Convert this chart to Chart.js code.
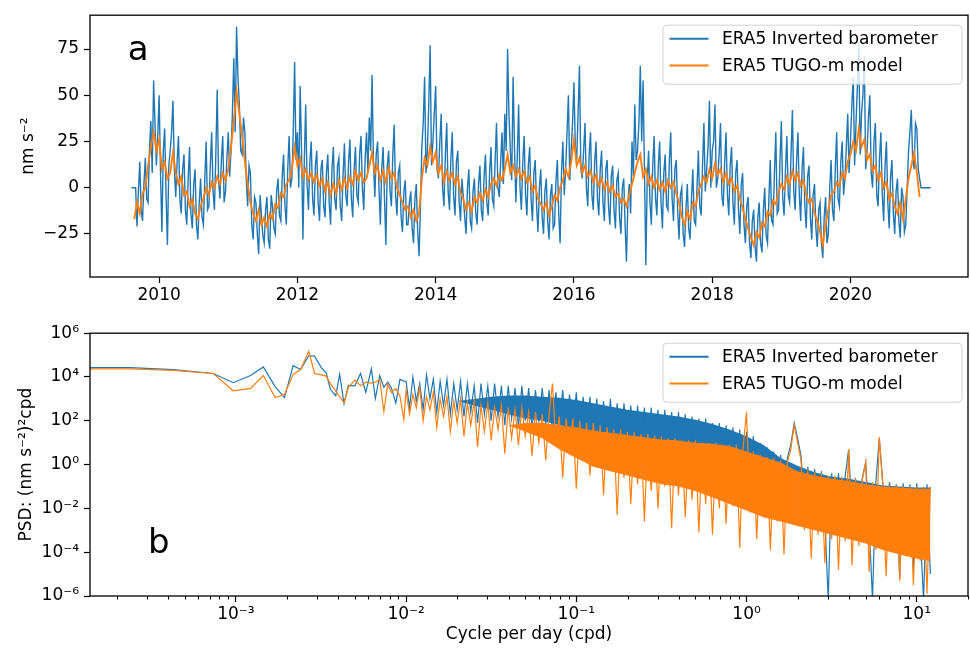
<!DOCTYPE html>
<html>
<head>
<meta charset="utf-8">
<script src="https://cdn.jsdelivr.net/npm/chart.js@4.4.0/dist/chart.umd.min.js"></script>
<style>
  body { margin: 0; background: #fff; width: 970px; height: 649px; overflow: hidden; position: relative; }
  canvas { position: absolute; left: 0; }
  #tsChart { top: 0; }
  #psdChart { top: 318px; }
</style>
</head>
<body>
<canvas id="tsChart" width="970" height="318"></canvas>
<canvas id="psdChart" width="970" height="331"></canvas>
<script>
// ---------- panel a : gravity residual time series (nm s^-2) ----------
const tsStart = 2009.60;

// inverted barometer, one value every 0.02 yr
const ibStep = 0.02;
const ibSeries = [
  0, 0, 0, 0, -21, -2, 14, -12, -18, 2, 16, -6, -8, 20, 36, 8, 58, 35, 12, 28,
  50, 8, -24, 20, 32, -4, -31, 12, 20, 30, 47, 10, -5, 14, 28, -6, -14, 10, 18, -12,
  -20, 5, 22, -14, -22, 2, 10, -20, -28, -8, 5, -16, -20, 4, 25, -12, -10, 12, 30, -2,
  -12, 18, 53, 4, -6, 15, 28, -8, -2, 16, 30, 6, 20, 40, 70, 30, 87, 60, 45, 20,
  18, 38, 30, 5, -10, 12, 8, -20, -28, -5, -8, -25, -36, -4, -15, -26, -30, -12, -5, -28,
  -33, -4, -10, -22, -25, -2, 5, -15, -18, 6, 18, -10, -20, 10, 28, 0, 5, 30, 68, 15,
  30, 0, 55, 20, -28, 15, 45, 2, -12, 14, 25, -6, -15, 12, 20, -8, -18, 10, 15, -10,
  -16, 8, 18, -8, -20, 10, 22, -6, -12, 12, 16, -10, -18, 6, 24, -4, -10, 14, 26, -6,
  -16, 10, 22, -4, -8, 18, 28, 0, -12, 16, 30, 8, 38, 20, 61, 14, -5, 18, 25, 0,
  -20, 10, 22, -6, -31, 12, 20, -2, -10, 18, 34, -4, -15, 8, 12, -16, -24, -2, 4, -20,
  -20, -8, -2, -22, -30, -6, 2, -24, -37, -10, 22, 35, 60, 8, 20, 45, 77, 12, 25, 40,
  55, 10, 5, 25, 40, 0, -10, 18, 35, -2, -12, 16, 30, -5, -15, 14, 20, -8, -18, 5,
  -5, -16, -25, 0, 10, -18, -22, -2, 5, -14, -20, 2, 12, -12, -18, 6, 18, -8, -15, 8,
  22, -6, -10, 15, 35, 0, -5, 14, 30, 2, 40, 20, 75, 40, 20, 4, 60, 22, -8, 16,
  45, 0, -12, 14, 28, -4, -15, 12, 22, -6, -18, 8, 15, -10, -24, 0, 10, -16, -25, -2,
  5, -18, -28, -4, 2, -22, -20, 4, 15, -14, -30, 8, 25, -4, 10, 30, 50, 4, 20, 35,
  57, 22, 15, 40, 66, 10, 5, 20, 35, 0, -10, 18, 30, -4, -12, 14, 25, -6, -15, 10,
  20, -8, -18, 10, 15, -10, -20, 6, 12, -12, -22, 4, 8, -16, -25, 0, 5, -20, -40, -8,
  2, -14, 25, 6, 45, 15, 20, 35, 66, 25, 58, 10, -42, 4, 20, -8, -20, 12, 28, -6,
  -15, 12, 25, -8, -22, 8, 18, -10, -12, 14, 30, -6, -18, 10, 15, -12, -28, -4, 0, -25,
  -32, -12, 2, -22, -28, -6, 10, -18, -20, 0, 20, -10, -15, 12, 35, -2, 10, 22, 47, 0,
  20, 25, 45, 0, 5, 18, 35, -5, -10, 14, 30, -4, -15, 12, 22, -8, -20, 8, 15, -12,
  -25, 2, 8, -20, -30, -10, -5, -30, -38, -18, -12, -32, -40, -16, -8, -30, -35, -12, 0, -26,
  -30, -6, 15, -18, -20, 8, 30, -14, -12, 14, 36, -6, -15, 10, 28, -4, -8, 18, 42, -2,
  -12, 14, 30, -4, -18, 10, 22, -10, -22, 6, 12, -16, -28, -4, 2, -22, -32, -12, -8, -30,
  -38, -16, -5, -30, -25, 0, 15, -12, -18, 10, 30, -6, -10, 14, 25, -4, 5, 22, 40, 8,
  25, 45, 60, 12, 35, 55, 78, 18, 40, 50, 71, 10, 20, 38, 50, 8, 0, 25, 35, -4,
  -10, 16, 30, -4, -18, 12, 25, -8, -22, 6, 15, -14, -25, -2, 5, -18, -27, 0, -5, -24,
  -20, 0, 20, 30, 42, 15, 10, 35, 32, 10, 5, 0, 0, 0, 0, 0, 0, 0, 0
];

// TUGO-m model, one value every 0.04 yr
const tugoStep = 0.04;
const tugoSeries = [
  null, -17, -8, -14, -3, 0, 12, 22, 30, 20,
  26, 10, 14, 5, 8, 19, 8, 2, 6, -4,
  -2, -10, -6, -14, -17, -10, -6, 0, -4, 3,
  0, 6, 2, 8, 4, 10, 22, 36, 52, 40,
  28, 14, 2, -8, -14, -18, -12, -20, -16, -21,
  -14, -17, -9, -11, -3, -5, 2, 4, 10, 22,
  12, 16, 6, 10, 4, 8, 3, 7, 1, 5,
  -2, 3, -4, 2, -3, 4, -1, 5, 0, 6,
  2, 9, 4, 8, 3, 5, 12, 19, 8, 12,
  4, 9, 3, 11, 5, 8, 0, -4, -8, -12,
  -10, -16, -12, -18, -14, 5, 16, 12, 22, 14,
  19, 8, 12, 3, 9, 4, 8, 2, 6, -3,
  -6, -12, -8, -13, -5, -8, -3, -7, -1, -5,
  2, 5, 1, 7, 4, 10, 18, 8, 12, 6,
  10, 5, 9, 3, 6, -2, 1, -6, -9, -12,
  -8, -15, -10, -4, -7, 0, 4, 10, 6, 14,
  26, 12, 16, 8, 12, 6, 9, 3, 7, 1,
  5, -1, 3, -2, 1, -5, -3, -8, -6, -10,
  -4, 2, 8, 14, 18, 6, 10, 2, 6, 0,
  4, -1, 3, -2, 4, 0, 3, -3, -8, -16,
  -20, -13, -17, -8, -10, -2, 2, 6, 3, 10,
  5, 13, 7, 10, 3, 8, 2, 5, -2, 1,
  -6, -11, -17, -22, -27, -31, -24, -27, -19, -21,
  -13, -15, -7, -9, -2, 2, -1, 6, 2, 9,
  4, 8, 1, 4, -4, -8, -6, -14, -18, -24,
  -31, -20, -12, -4, -2, 3, 1, 8, 5, 14,
  18, 25, 20, 32, 22, 26, 15, 18, 9, 12,
  4, 8, 0, 3, -6, -3, -10, -14, -8, -17,
  -6, 5, 12, 19, 8, -5
];

const tsYearTicks = [2010, 2012, 2014, 2016, 2018, 2020];
const tsValueTicks = [-25, 0, 25, 50, 75];

// ---------- panel b : power spectral density, values stored as log10 ----------
const psdLowFreq = [
  1.39e-4, 2.39e-4, 4.28e-4, 7.36e-4, 9.65e-4, 1.22e-3, 1.45e-3, 1.70e-3,
  1.93e-3, 2.17e-3, 2.40e-3, 2.68e-3, 2.90e-3, 3.18e-3, 3.39e-3, 3.59e-3,
  3.86e-3, 4.07e-3, 4.32e-3, 4.58e-3, 5.0e-3, 5.4e-3, 5.8e-3, 6.25e-3,
  6.6e-3, 7.0e-3, 7.4e-3, 7.8e-3, 8.2e-3, 8.7e-3, 9.2e-3, 9.7e-3
];
const ibPsdLow = [
  4.43, 4.43, 4.34, 4.16, 3.74, 4.07, 4.46, 3.56,
  3.06, 4.52, 4.34, 4.97, 4.95, 4.42, 4.19, 3.44,
  3.14, 4.12, 2.79, 3.62, 3.60, 4.16, 3.30, 4.37,
  3.02, 4.07, 3.53, 3.77, 3.50, 2.81, 3.89, 3.81
];
const tugoPsdLow = [
  4.37, 4.37, 4.30, 4.16, 3.37, 3.48, 4.07, 3.06,
  3.20, 4.12, 4.34, 5.17, 4.16, 4.10, 4.04, 3.70,
  3.37, 3.10, 2.83, 3.53, 3.86, 3.60, 3.77, 3.72,
  3.77, 3.89, 2.42, 3.67, 3.29, 3.47, 3.14, 2.06
];

// dense part of the spectrum, one value every 0.02 decade from 10^-2 cpd
const psdGridStart = -2.0;
const psdGridStep = 0.02;
const ibPsdGrid = [
  3.8, 2.6, 4.0, 2.9, 3.7, 2.5, 4.1, 3.0, 3.9, 2.4,
  3.8, 2.7, 3.9, 2.3, 3.7, 2.5, 3.8, 2.2, 3.7, 2.4,
  3.6, 1.9, 3.7, 2.3, 3.6, 2.0, 3.7, 2.2, 3.6, 1.8,
  3.6, 2.1, 3.5, 1.7, 3.6, 2.0, 3.5, 1.6, 3.4, 2.0,
  3.5, 1.8, 3.4, 1.4, 3.3, 1.9, 3.4, 1.5, 3.2, 1.7,
  3.3, 1.2, 3.1, 1.4, 3.1, 1.0, 3.0, 1.3, 2.9, 0.8,
  3.0, 1.0, 2.8, 0.6, 2.8, 0.9, 2.7, 0.4, 2.7, 0.7,
  2.6, 0.2, 2.6, 0.5, 2.5, 0.0, 2.5, 0.3, 2.4, -0.3,
  2.4, 0.1, 2.3, -0.5, 2.2, -0.2, 2.1, -0.8, 2.1, -0.4,
  1.9, -1.0, 1.9, -0.6, 1.8, -1.2, 1.7, -0.8, 1.6, -1.4,
  1.5, -1.0, 1.3, -1.6, 1.0, -1.2, 0.8, -1.8, 0.6, -1.5,
  0.45, -2.0, 0.3, 0.9, 1.9, 1.2, 0.4, -1.8, -0.1, -2.2,
  -0.2, -2.0, -0.3, -2.5, -6.2, -0.4, -2.3, -0.4, -2.7, -0.5,
  0.7, -2.4, -0.6, -2.9, -0.6, 0.1, -2.6, -6.2, -0.75, 1.2,
  -0.8, -3.0, -0.8, -2.8, -0.9, -5.2, -0.85, -3.2, -0.9, -4.8,
  -0.85, -3.0, -6.2, -0.9, -5.0
];
const tugoPsdGrid = [
  3.4, 2.3, 3.2, 2.6, 3.5, 2.0, 3.1, 2.5, 3.3, 1.7,
  3.0, 2.2, 3.1, 1.5, 2.9, 1.9, 3.0, 1.3, 2.8, 1.8,
  2.9, 0.8, 2.7, 1.5, 2.8, 1.1, 2.6, 1.6, 2.7, 0.5,
  2.6, 1.2, 2.5, 0.9, 2.6, 1.3, 2.4, 0.4, 2.4, 1.0,
  2.3, 0.2, 2.3, 3.7, 0.9, 2.2, -0.6, 2.1, 0.6, 2.1,
  -1.1, 2.0, 0.3, 1.9, -0.5, 1.9, 0.0, 1.8, -1.4, 1.7,
  -0.3, 1.6, -2.3, 1.6, -0.6, 1.5, -1.8, 1.5, -0.9, 1.4,
  -2.6, 1.4, -1.2, 1.3, -2.0, 1.3, -1.0, 1.2, -2.9, 1.2,
  -1.4, 1.1, -2.4, 1.1, -1.6, 1.1, -3.1, 1.0, -1.8, 1.0,
  -3.2, 1.0, -2.0, 0.9, -2.7, 0.9, -1.9, 0.9, -3.8, 0.8,
  2.4, -2.2, 0.6, -3.4, 0.45, -2.4, 0.35, -3.9, 0.3, -2.6,
  0.2, -4.1, 0.1, 0.7, 1.8, 1.0, 0.2, -3.0, -0.2, -4.3,
  -0.35, -3.2, -0.4, -4.5, -0.5, -3.4, -0.5, -4.8, -0.55, -3.5,
  0.7, -4.6, -0.65, -3.7, -0.7, 0.1, -4.9, -0.8, -3.9, 1.26,
  -0.9, -5.1, -0.95, -4.0, -0.95, -5.3, -1.0, -4.2, -1.0, -5.5,
  -1.0, -4.4, -1.0, -5.9, -1.0
];

// solid core of the noisy band (where the lines overlap completely)
const ibBandLogF = [-1.7, -1.6, -1.5, -1.4, -1.3, -1.2, -1.1, -1.0, -0.9, -0.8, -0.7, -0.6, -0.5, -0.4,
  -0.3, -0.2, -0.1, 0.0, 0.1, 0.2, 0.3, 0.4, 0.5, 0.6, 0.7, 0.8, 0.9, 1.0, 1.08];
const ibBandTop = [2.9, 3.0, 3.1, 3.15, 3.15, 3.1, 3.05, 2.95, 2.8, 2.65, 2.5, 2.4, 2.3, 2.2,
  2.05, 1.85, 1.6, 1.3, 0.9, 0.3, -0.05, -0.35, -0.55, -0.65, -0.8, -0.95, -1.0, -1.05, -1.05];
const ibBandBottom = [2.9, 2.7, 2.5, 2.3, 2.1, 2.0, 1.8, 1.6, 1.4, 1.2, 1.0, 0.8, 0.6, 0.4,
  0.2, 0.0, -0.2, -0.4, -0.6, -0.8, -1.0, -1.2, -1.4, -1.6, -1.8, -2.0, -2.2, -2.4, -2.5];
const tugoBandLogF = [-1.4, -1.3, -1.2, -1.1, -1.0, -0.9, -0.8, -0.7, -0.6, -0.5, -0.4, -0.3, -0.2, -0.1,
  0.0, 0.1, 0.2, 0.3, 0.4, 0.5, 0.6, 0.7, 0.8, 0.9, 1.0, 1.08];
const tugoBandTop = [1.8, 1.9, 1.9, 1.8, 1.7, 1.55, 1.45, 1.35, 1.25, 1.15, 1.1, 1.0, 0.95, 0.85,
  0.6, 0.35, 0.1, -0.3, -0.5, -0.65, -0.75, -0.9, -1.0, -1.05, -1.1, -1.1];
const tugoBandBottom = [1.8, 1.5, 1.2, 0.7, 0.3, -0.1, -0.3, -0.5, -0.7, -0.9, -1.0, -1.2, -1.5, -1.8,
  -2.1, -2.4, -2.6, -2.8, -3.0, -3.2, -3.4, -3.6, -3.9, -4.1, -4.3, -4.4];

const psdFreqTicks = [1e-3, 1e-2, 1e-1, 1, 10];
const psdValueTicks = [1e-6, 1e-4, 1e-2, 1, 1e2, 1e4, 1e6];

// ---------- helpers ----------
const BLUE = '#1f77b4';
const ORANGE = '#ff7f0e';
const FONT = "'DejaVu Sans', sans-serif";

Chart.defaults.font.family = FONT;
Chart.defaults.font.size = 17;
Chart.defaults.color = '#000';

const tsPoints = (vals, step) => vals.map((v, i) => ({ x: tsStart + i * step, y: v }));
const psdPoints = (lowVals, gridVals) =>
  psdLowFreq.map((f, i) => ({ x: f, y: 10 ** lowVals[i] }))
    .concat(gridVals.map((v, i) => ({ x: 10 ** (psdGridStart + i * psdGridStep), y: 10 ** v })));
const bandPoints = (logF, vals) => logF.map((u, i) => ({ x: 10 ** u, y: 10 ** vals[i] }));

const SUP = { '-': '\u207b', '0': '\u2070', '1': '\u00b9', '2': '\u00b2', '3': '\u00b3',
  '4': '\u2074', '5': '\u2075', '6': '\u2076' };
const powLabel = v => '10' + String(Math.round(Math.log10(v))).split('').map(c => SUP[c]).join('');
const minusLabel = v => (v < 0 ? '\u2212' + Math.abs(v) : String(v));
const fixTicks = arr => scale => { scale.ticks = arr.map(v => ({ value: v })); };

const axisGrid = {
  drawOnChartArea: false, drawTicks: true, tickLength: 6,
  color: '#000', tickColor: '#000', tickWidth: 1.2
};

// black box around the axes, like matplotlib spines
const frame = {
  id: 'frame',
  afterDraw(chart) {
    const { ctx, chartArea: a } = chart;
    ctx.save();
    ctx.strokeStyle = '#000';
    ctx.lineWidth = 1.3;
    ctx.strokeRect(a.left, a.top, a.right - a.left, a.bottom - a.top);
    ctx.restore();
  }
};

// legend box in the upper right of the axes
const legendBox = {
  id: 'legendBox',
  afterDatasetsDraw(chart) {
    const { ctx, chartArea: a } = chart;
    const items = chart.data.datasets.filter(d => d.inLegend);
    const w = 299, h = 59;
    const x0 = a.right - 6 - w, y0 = a.top + 10;
    ctx.save();
    ctx.beginPath();
    ctx.roundRect(x0, y0, w, h, 4);
    ctx.fillStyle = 'rgba(255,255,255,0.8)';
    ctx.fill();
    ctx.strokeStyle = 'rgba(204,204,204,0.9)';
    ctx.lineWidth = 1;
    ctx.stroke();
    items.forEach((ds, k) => {
      const y = y0 + 13.5 + k * 26.7;
      ctx.strokeStyle = ds.borderColor;
      ctx.lineWidth = 2;
      ctx.beginPath();
      ctx.moveTo(x0 + 6.5, y);
      ctx.lineTo(x0 + 45.5, y);
      ctx.stroke();
      ctx.fillStyle = '#000';
      ctx.font = '17px ' + FONT;
      ctx.textBaseline = 'middle';
      ctx.fillText(ds.label, x0 + 59, y + 1);
    });
    ctx.restore();
  }
};

// big panel letter placed in axes fractions
const panelTag = {
  id: 'panelTag',
  afterDatasetsDraw(chart, args, opts) {
    const { ctx, chartArea: a } = chart;
    ctx.save();
    ctx.font = '34px ' + FONT;
    ctx.fillStyle = '#000';
    ctx.textBaseline = 'alphabetic';
    ctx.fillText(opts.text, a.left + opts.fx * (a.right - a.left), a.top + opts.fy * (a.bottom - a.top));
    ctx.restore();
  }
};

// small minor ticks on the log frequency axis
const minorTicks = {
  id: 'minorTicks',
  afterDraw(chart) {
    const { ctx, chartArea: a } = chart;
    const xs = chart.scales.x;
    ctx.save();
    ctx.strokeStyle = '#000';
    ctx.lineWidth = 1;
    for (let k = -4; k <= 1; k++) {
      for (let m = 2; m <= 9; m++) {
        const v = m * 10 ** k;
        if (v < xs.min || v > xs.max) continue;
        const px = Math.round(xs.getPixelForValue(v)) + 0.5;
        ctx.beginPath();
        ctx.moveTo(px, a.bottom);
        ctx.lineTo(px, a.bottom + 3.5);
        ctx.stroke();
      }
    }
    ctx.restore();
  }
};

const baseOptions = {
  responsive: false,
  animation: false,
  events: [],
  elements: { point: { radius: 0 }, line: { tension: 0 } }
};

// ---------- panel a ----------
new Chart(document.getElementById('tsChart'), {
  type: 'line',
  data: {
    datasets: [
      { label: 'ERA5 Inverted barometer', inLegend: true, data: tsPoints(ibSeries, ibStep),
        borderColor: BLUE, borderWidth: 1.4, order: 2 },
      { label: 'ERA5 TUGO-m model', inLegend: true, data: tsPoints(tugoSeries, tugoStep),
        borderColor: ORANGE, borderWidth: 1.9, order: 1 }
    ]
  },
  options: {
    ...baseOptions,
    layout: { padding: { left: 0, right: 2, top: 12, bottom: 0 } },
    plugins: {
      legend: { display: false },
      tooltip: { enabled: false },
      panelTag: { text: 'a', fx: 0.043, fy: 0.17 }
    },
    scales: {
      x: {
        type: 'linear', min: 2009.0, max: 2021.70,
        afterBuildTicks: fixTicks(tsYearTicks),
        afterFit: s => { s.height = 41; },
        grid: axisGrid, border: { display: false },
        ticks: { padding: 2, maxRotation: 0, callback: v => String(v) }
      },
      y: {
        type: 'linear', min: -48.3, max: 93.3,
        afterBuildTicks: fixTicks(tsValueTicks),
        afterFit: s => { s.width = 90; },
        grid: axisGrid, border: { display: false },
        ticks: { padding: 5, callback: minusLabel },
        title: { display: true, text: 'nm s\u207b\u00b2', padding: { top: 18, bottom: 0 } }
      }
    }
  },
  plugins: [frame, legendBox, panelTag]
});

// ---------- panel b ----------
new Chart(document.getElementById('psdChart'), {
  type: 'line',
  data: {
    datasets: [
      { label: 'ERA5 Inverted barometer', inLegend: true, data: psdPoints(ibPsdLow, ibPsdGrid),
        borderColor: BLUE, borderWidth: 1.2, order: 5 },
      { label: 'ERA5 TUGO-m model', inLegend: true, data: psdPoints(tugoPsdLow, tugoPsdGrid),
        borderColor: ORANGE, borderWidth: 1.2, order: 1 },
      { label: 'ib core', data: bandPoints(ibBandLogF, ibBandTop), borderWidth: 0,
        borderColor: BLUE, backgroundColor: BLUE, fill: 3, order: 6 },
      { label: 'ib core low', data: bandPoints(ibBandLogF, ibBandBottom), borderWidth: 0,
        borderColor: 'rgba(0,0,0,0)', fill: false, order: 7 },
      { label: 'tugo core', data: bandPoints(tugoBandLogF, tugoBandTop), borderWidth: 0,
        borderColor: ORANGE, backgroundColor: ORANGE, fill: 5, order: 3 },
      { label: 'tugo core low', data: bandPoints(tugoBandLogF, tugoBandBottom), borderWidth: 0,
        borderColor: 'rgba(0,0,0,0)', fill: false, order: 4 }
    ]
  },
  options: {
    ...baseOptions,
    layout: { padding: { left: 0, right: 2, top: 12, bottom: 0 } },
    plugins: {
      legend: { display: false },
      tooltip: { enabled: false },
      panelTag: { text: 'b', fx: 0.066, fy: 0.838 }
    },
    scales: {
      x: {
        type: 'logarithmic', min: 1.39e-4, max: 20,
        afterBuildTicks: fixTicks(psdFreqTicks),
        afterFit: s => { s.height = 53; },
        grid: axisGrid, border: { display: false },
        ticks: { padding: 2, maxRotation: 0, callback: powLabel },
        title: { display: true, text: 'Cycle per day (cpd)', padding: { top: 0, bottom: 4 } }
      },
      y: {
        type: 'logarithmic', min: 1e-6, max: 1e6,
        afterBuildTicks: fixTicks(psdValueTicks),
        afterFit: s => { s.width = 90; },
        grid: axisGrid, border: { display: false },
        ticks: { padding: 5, callback: powLabel },
        title: { display: true, text: 'PSD: (nm s\u207b\u00b2)\u00b2cpd', padding: { top: 16, bottom: 0 } }
      }
    }
  },
  plugins: [frame, legendBox, panelTag, minorTicks]
});
</script>
</body>
</html>
